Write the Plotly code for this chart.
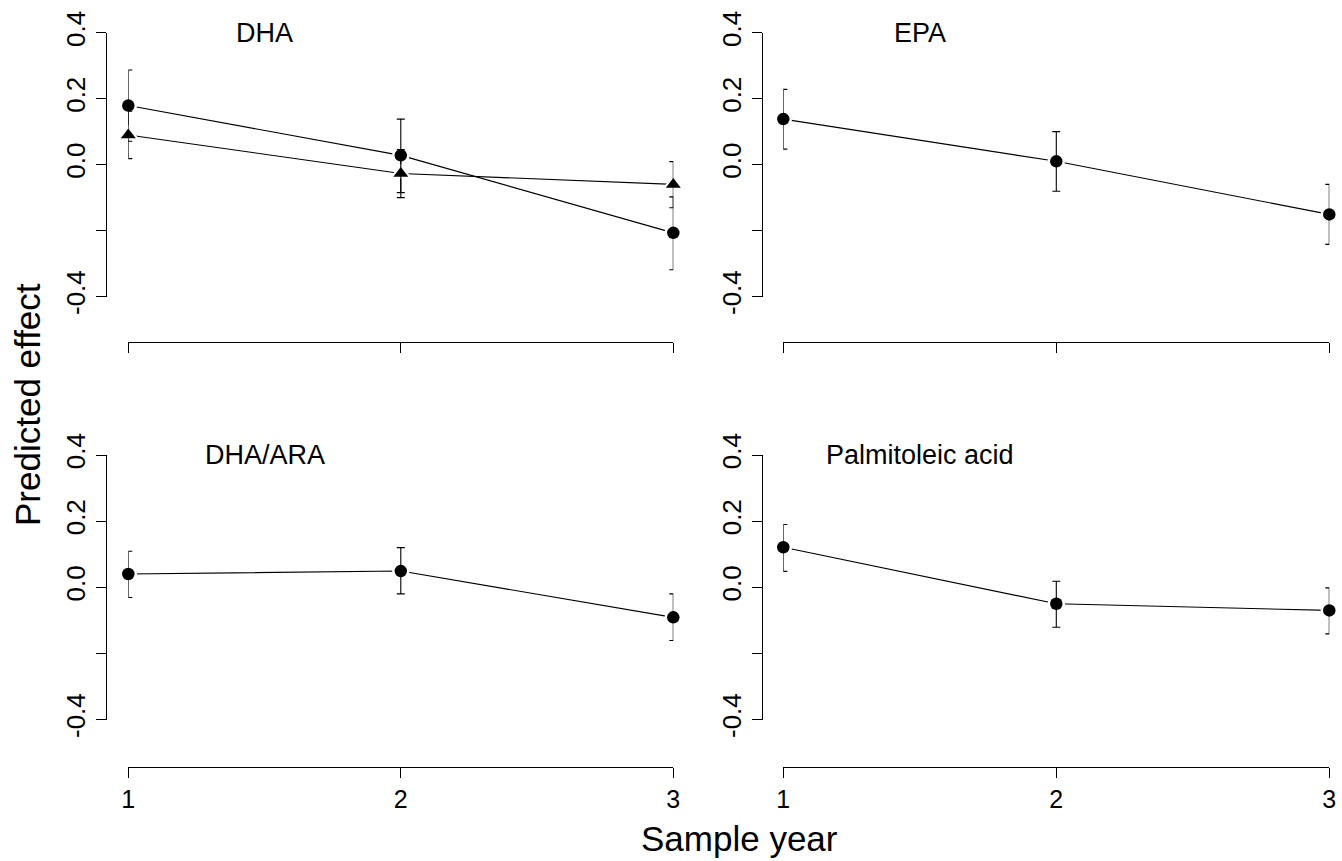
import plotly.graph_objects as go

# ---------------- data ----------------
years = [1, 2, 3]

dha_circle_mean = [0.179, 0.028, -0.207]
dha_circle_upper = [0.287, 0.138, -0.098]
dha_circle_lower = [0.071, -0.085, -0.319]

dha_tri_mean = [0.090, -0.027, -0.060]
dha_tri_upper = [0.162, 0.046, 0.009]
dha_tri_lower = [0.018, -0.100, -0.131]

epa_mean = [0.138, 0.010, -0.151]
epa_upper = [0.228, 0.100, -0.060]
epa_lower = [0.047, -0.081, -0.242]

dhaara_mean = [0.040, 0.049, -0.091]
dhaara_upper = [0.109, 0.120, -0.020]
dhaara_lower = [-0.031, -0.020, -0.161]

palm_mean = [0.121, -0.050, -0.070]
palm_upper = [0.190, 0.018, -0.002]
palm_lower = [0.048, -0.121, -0.141]

panel_titles = ["DHA", "EPA", "DHA/ARA", "Palmitoleic acid"]
y_tickvals = [-0.4, -0.2, 0.0, 0.2, 0.4]
y_ticktext = ["-0.4", "", "0.0", "0.2", "0.4"]
x_tickvals = [1, 2, 3]
x_ticktext = ["1", "2", "3"]

# ---------------- layout geometry (pixels) ----------------
W, H = 1342, 861
FONT = "Liberation Sans, Arial, Helvetica, sans-serif"


def px(x):
    return x / W


def py(y):
    return 1 - y / H


# per panel: x of tick 1, x of tick 3, y-axis line x, y px of 0.4, y px of -0.4, x-axis line y
geom = [
    (128.3, 673.3, 105.5, 32.7, 296.5, 342.0),
    (783.3, 1329.3, 761.7, 32.7, 296.5, 342.0),
    (128.3, 673.3, 105.5, 455.0, 719.5, 766.5),
    (783.3, 1329.3, 761.7, 455.0, 719.5, 766.5),
]

HALO = 2.5
panels = [
    [(dha_circle_mean, dha_circle_lower, dha_circle_upper, "circle", 12.5),
     (dha_tri_mean, dha_tri_lower, dha_tri_upper, "triangle-up", 13)],
    [(epa_mean, epa_lower, epa_upper, "circle", 12.5)],
    [(dhaara_mean, dhaara_lower, dhaara_upper, "circle", 12.5)],
    [(palm_mean, palm_lower, palm_upper, "circle", 12.5)],
]

fig = go.Figure()
layout = dict(
    template="none",
    width=W, height=H, autosize=False,
    margin=dict(l=0, r=0, t=0, b=0, pad=0, autoexpand=False),
    paper_bgcolor="white", plot_bgcolor="white",
    showlegend=False,
    font=dict(family=FONT, color="black"),
)
annotations = []

for i, (series_list, g) in enumerate(zip(panels, geom)):
    n = i + 1
    xa = "x" if n == 1 else f"x{n}"
    ya = "y" if n == 1 else f"y{n}"
    x1, x3, yline, y_top, y_bot, xline = g
    bottom_row = i >= 2

    for mean, lower, upper, sym, size in series_list:
        err_plus = [u - m for u, m in zip(upper, mean)]
        err_minus = [m - l for m, l in zip(mean, lower)]
        # connecting line
        fig.add_trace(go.Scatter(
            x=years, y=mean, mode="lines", xaxis=xa, yaxis=ya,
            line=dict(color="black", width=1.1), hoverinfo="skip"))
        # white halo around points (gap between line and point, as type="b")
        fig.add_trace(go.Scatter(
            x=years, y=mean, mode="markers", xaxis=xa, yaxis=ya,
            cliponaxis=False, hoverinfo="skip",
            marker=dict(symbol=sym, size=size + HALO, color="white",
                        line=dict(color="white", width=HALO))))
        # error bars and points on top
        fig.add_trace(go.Scatter(
            x=years, y=mean, mode="markers", xaxis=xa, yaxis=ya,
            cliponaxis=False,
            marker=dict(symbol=sym, size=size, color="black",
                        line=dict(width=0)),
            error_y=dict(type="data", symmetric=False, array=err_plus,
                         arrayminus=err_minus, color="black",
                         thickness=1.1, width=4)))

    xkey = "xaxis" if n == 1 else f"xaxis{n}"
    ykey = "yaxis" if n == 1 else f"yaxis{n}"
    layout[xkey] = dict(
        domain=[px(x1), px(x3)], range=[1, 3], anchor="free",
        position=py(xline), showline=True, linecolor="black", linewidth=1,
        ticks="outside", ticklen=10, tickwidth=1, tickcolor="black",
        tickvals=x_tickvals, ticktext=x_ticktext, automargin=False,
        showticklabels=bottom_row, tickfont=dict(size=25, family=FONT),
        showgrid=False, zeroline=False, fixedrange=True)
    layout[ykey] = dict(
        domain=[py(y_bot), py(y_top)], range=[-0.4, 0.4], anchor="free",
        position=px(yline), showline=True, linecolor="black", linewidth=1,
        ticks="outside", ticklen=10, tickwidth=1, tickcolor="black",
        tickvals=y_tickvals, ticktext=y_ticktext, tickangle=-90,
        tickfont=dict(size=26, family=FONT), automargin=False,
        showgrid=False, zeroline=False, fixedrange=True)

    annotations.append(dict(
        x=1.5, y=0.4, xref=xa, yref=ya, text=panel_titles[i],
        showarrow=False, xanchor="center", yanchor="middle",
        font=dict(size=27, family=FONT, color="black")))

annotations.append(dict(
    x=px(27), y=py(405), xref="paper", yref="paper", text="Predicted effect",
    textangle=-90, showarrow=False, xanchor="center", yanchor="middle",
    font=dict(size=35, family=FONT, color="black")))
annotations.append(dict(
    x=px(740), y=py(838), xref="paper", yref="paper", text="Sample year",
    showarrow=False, xanchor="center", yanchor="middle",
    font=dict(size=35, family=FONT, color="black")))

layout["annotations"] = annotations
fig.update_layout(**layout)
fig.write_html(
    "out.html",
    config={"displayModeBar": False},
    post_script="document.body.style.margin='0';"
                "document.body.style.padding='0';"
                "document.body.style.overflow='hidden';",
)
